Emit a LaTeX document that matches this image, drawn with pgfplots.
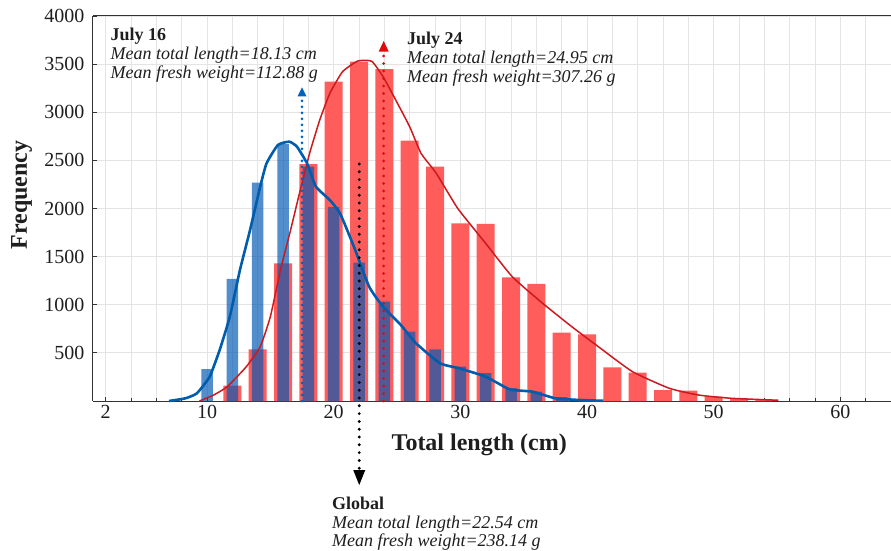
\documentclass[border=0pt]{standalone}
\usepackage{fontspec}
\setmainfont{Liberation Serif}
\usepackage{pgfplots}
\pgfplotsset{compat=1.18}
\definecolor{redbar}{RGB}{255,92,92}
\definecolor{bluebar}{RGB}{0,88,178}
\definecolor{bluecurve}{RGB}{0,92,172}
\definecolor{redcurve}{RGB}{205,25,30}
\definecolor{bluearrow}{RGB}{0,100,190}
\definecolor{redarrow}{RGB}{225,10,10}
\definecolor{gridc}{RGB}{228,228,228}
\definecolor{txt}{RGB}{30,30,30}
\begin{document}
\begin{tikzpicture}
\begin{axis}[
  at={(0,0)}, anchor=south west,
  scale only axis, width=798pt, height=385pt,
  xmin=1, xmax=64, ymin=0, ymax=4000,
  clip=false,
  axis x line*=bottom, axis y line*=left,
  axis line style={-, draw=black!80, line width=1pt},
  xtick={2,10,20,30,40,50,60}, minor xtick={4,6,...,64},
  ytick={500,1000,...,4000},
  tick align=inside, major tick length=4pt, minor tick length=3pt,
  tick style={black!80, line width=0.8pt},
  grid=both,
  major grid style={gridc, line width=0.8pt},
  minor grid style={gridc, line width=0.8pt},
  ticklabel style={font=\fontsize{20}{23}\selectfont, text=txt},
  /pgf/number format/assume math mode=true,
  /pgf/number format/1000 sep={},
  yticklabel style={xshift=-5pt},
  xticklabel style={yshift=-1pt},
  xlabel={Total length (cm)},
  ylabel={Frequency},
  label style={font=\fontsize{24}{28}\selectfont\bfseries, text=txt},
  x label style={at={(axis description cs:0.484,-0.114)}, anchor=center},
  y label style={at={(axis description cs:-0.0894,0.535)}, anchor=center},
]
% July 24 bars (red)
\addplot[ybar, bar width=18pt, bar shift=0pt, fill=redbar, draw=none] coordinates {
(12,160) (14,537) (16,1430) (18,2462) (20,3318) (22,3525) (24,3449) (26,2705)
(28,2434) (30,1846) (32,1839) (34,1285) (36,1216) (38,710) (40,693) (42,350)
(44,294) (46,114) (48,107) (50,45) (52,28) (54,12)};
% July 16 bars (blue)
\addplot[ybar, bar width=11.5pt, bar shift=0pt, fill=bluebar, fill opacity=0.68, draw=none] coordinates {
(10,330) (12,1270) (14,2268) (16,2670) (18,2434) (20,2014) (22,1437) (24,1032)
(26,720) (28,537) (30,356) (32,290) (34,135) (36,97) (38,40) (40,18)};
% July 24 curve
\addplot[redcurve, line width=1.5pt, smooth, tension=0.3, mark=none] coordinates {
(9.4,0) (10.5,60) (11.6,149) (13.1,356) (14.2,564) (15.0,876) (15.8,1361) (16.6,1777)
(17.3,2158) (18.1,2573) (18.9,2919) (19.7,3197) (20.7,3421) (21.9,3532) (23.0,3530)
(23.9,3369) (24.9,3127) (26.0,2850) (26.9,2573) (28.1,2366) (29.8,2000) (32.0,1638)
(34.1,1291) (36.5,1015) (38.8,772) (40.9,564) (43.6,304) (46.5,132) (48.8,62)
(51.4,28) (55.1,8)};
% July 16 curve
\addplot[bluecurve, line width=2.6pt, smooth, tension=0.3, mark=none] coordinates {
(7,0) (8.3,28) (9.2,80) (10.2,250) (11.0,530) (11.8,876) (12.6,1361) (13.4,1777)
(14.2,2227) (14.7,2469) (15.6,2660) (16.5,2694) (17.1,2642) (17.9,2469) (18.6,2227)
(19.7,2088) (20.5,1950) (21.6,1603) (22.8,1188) (23.9,980) (25.3,790) (26.5,600)
(28.4,392) (29.9,340) (32.0,253) (33.9,121) (35.7,97) (37.5,28) (39.5,10) (41.3,2)};
% top spine
\draw[black!80, line width=1pt] (rel axis cs:0,1) -- (rel axis cs:1,1);
% mean arrows (dotted shafts)
\draw[bluearrow, line width=3pt, line cap=round, dash pattern=on 0pt off 6pt] (axis cs:17.5,0) -- (axis cs:17.5,3150);
\draw[redarrow, line width=3pt, line cap=round, dash pattern=on 0pt off 7.5pt] (axis cs:23.95,0) -- (axis cs:23.95,3620);
\draw[black, line width=3.2pt, line cap=round, dash pattern=on 0pt off 7.8pt] (axis cs:22.02,2462) -- (axis cs:22.02,-700);
\coordinate (bt) at (axis cs:17.5,3259);
\coordinate (rt) at (axis cs:23.95,3740);
\coordinate (kt) at (axis cs:22.02,-873);
\end{axis}
\fill[bluearrow] (bt) -- ++(-4.5pt,-9pt) -- ++(9pt,0pt) -- cycle;
\fill[redarrow] (rt) -- ++(-5pt,-10.5pt) -- ++(10pt,0pt) -- cycle;
\fill[black] (kt) -- ++(-6pt,15pt) -- ++(12pt,0pt) -- cycle;
\begin{scope}[every node/.style={anchor=base west, inner sep=0pt, text=txt}]
\node[font=\fontsize{18}{20}\selectfont\bfseries] at (17.5pt,360pt) {July 16};
\node[font=\fontsize{18}{20}\selectfont\itshape] at (17.5pt,341pt) {Mean total length=18.13 cm};
\node[font=\fontsize{18}{20}\selectfont\itshape] at (17.5pt,322.5pt) {Mean fresh weight=112.88 g};
\node[font=\fontsize{18}{20}\selectfont\bfseries] at (314pt,356pt) {July 24};
\node[font=\fontsize{18}{20}\selectfont\itshape] at (314pt,337pt) {Mean total length=24.95 cm};
\node[font=\fontsize{18}{20}\selectfont\itshape] at (314pt,318.5pt) {Mean fresh weight=307.26 g};
\node[font=\fontsize{18}{20}\selectfont\bfseries] at (239pt,-108pt) {Global};
\node[font=\fontsize{18}{20}\selectfont\itshape] at (239pt,-127pt) {Mean total length=22.54 cm};
\node[font=\fontsize{18}{20}\selectfont\itshape] at (239pt,-145pt) {Mean fresh weight=238.14 g};
\end{scope}
\pgfresetboundingbox
\path[use as bounding box] (-93pt,-150pt) rectangle (798pt,401pt);
\end{tikzpicture}
\end{document}
